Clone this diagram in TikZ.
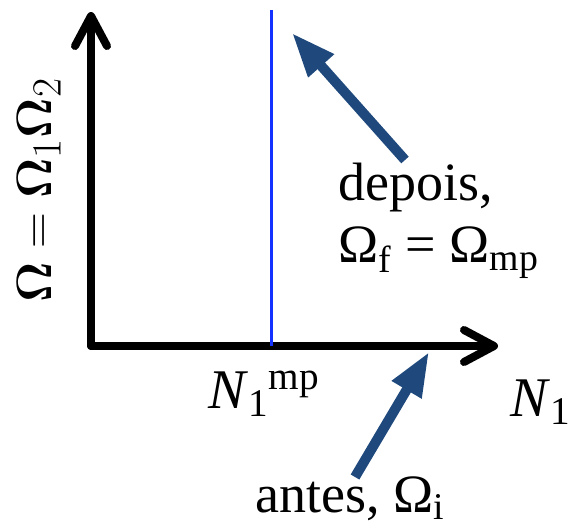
\documentclass[tikz,border=0pt]{standalone}
\usepackage[no-math]{fontspec}
\setmainfont{Liberation Serif}
\usetikzlibrary{arrows.meta,positioning}
\definecolor{pointerblue}{RGB}{31,73,125}
\definecolor{mpline}{RGB}{20,50,255}

\begin{document}
\begin{tikzpicture}[
    x=0.5pt, y=-0.5pt,
    axis/.style={line width=4pt, line cap=round, -{Straight Barb[round,length=15pt,width=16pt]}},
    pointer/.style={draw=pointerblue, line width=5pt, -{Triangle[length=22pt,width=16pt]}},
    lbl/.style={inner sep=0pt, font=\fontsize{27}{32}\selectfont}
]
    \useasboundingbox (0,0) rectangle (569,530);
    % axes
    \coordinate (origin) at (91,346);
    \coordinate (ytip) at (91,12);
    \coordinate (xtip) at (498,346);
    \draw[axis] (origin) -- (ytip);
    \draw[axis] (origin) -- (xtip);
    % equilibrium line
    \coordinate (mptop) at (271,10);
    \coordinate (mpbot) at (271,346);
    \draw[mpline, line width=1.5pt] (mptop) -- (mpbot);
    % labels
    \node[lbl, rotate=90, anchor=base west, font=\fontsize{31}{36}\selectfont] (omega) at (51,303) {$\mathbf{\Omega} = \mathbf{\Omega}_1\mathbf{\Omega}_2$};
    \node[lbl, anchor=base west, font=\fontsize{28}{34}\selectfont] (nmp) at (208,408) {\textit{N}\textsubscript{1}\textsuperscript{mp}};
    \node[lbl, anchor=base west, font=\fontsize{28}{34}\selectfont] (nx) at (510,416) {\textit{N}\textsubscript{1}};
    \node[lbl, anchor=base west] (depois) at (338,200) {depois,};
    \node[lbl, anchor=base west] (omf) at (338,263) {Ω\textsubscript{f} = Ω\textsubscript{mp}};
    \node[lbl, anchor=base west] (antes) at (255,512) {antes, Ω\textsubscript{i}};
    % pointers
    \coordinate (depoistail) at (405,160);
    \coordinate (depoistip) at (292,33);
    \coordinate (antestail) at (355,477);
    \coordinate (antestip) at (429,352);
    \draw[pointer] (depoistail) -- (depoistip);
    \draw[pointer] (antestail) -- (antestip);
\end{tikzpicture}
\end{document}
